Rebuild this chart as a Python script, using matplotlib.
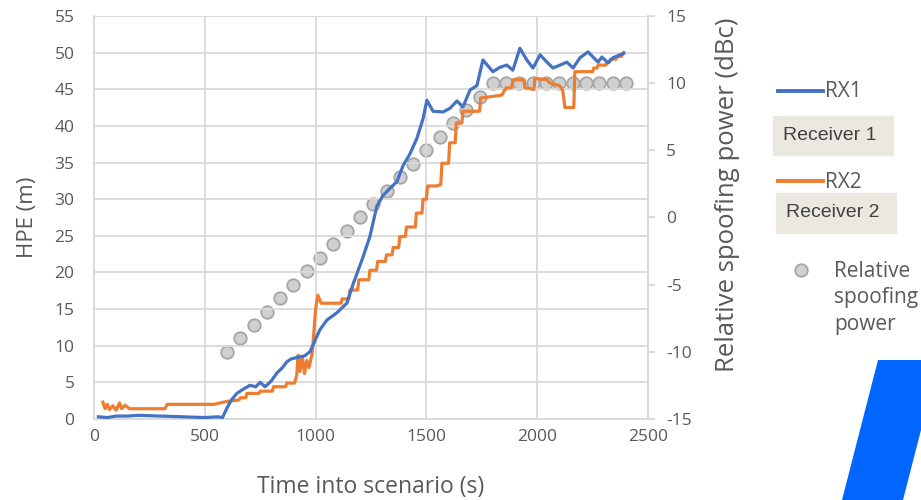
import matplotlib
matplotlib.use("Agg")
import matplotlib.pyplot as plt
from matplotlib.lines import Line2D
from matplotlib.patches import Polygon, Rectangle

plt.rcParams["font.family"] = ["Open Sans", "DejaVu Sans"]
plt.rcParams["axes.unicode_minus"] = False

# data
rx1_t = [20, 60, 100, 150, 200, 300, 400, 500, 560, 580, 600, 620, 645, 670, 704,
         730, 750, 772, 800, 826, 850, 870, 890, 916, 950, 975, 1006, 1020, 1051,
         1096, 1141, 1169, 1214, 1245, 1276, 1304, 1336, 1367, 1395, 1426, 1457,
         1485, 1502, 1530, 1575, 1606, 1638, 1665, 1697, 1728, 1755, 1800, 1832,
         1863, 1890, 1922, 1953, 1981, 2013, 2044, 2071, 2103, 2134, 2162, 2193,
         2229, 2252, 2275, 2292, 2320, 2342, 2374, 2390]
rx1_hpe = [0.3, 0.2, 0.4, 0.4, 0.5, 0.4, 0.3, 0.2, 0.3, 0.2, 1.5, 2.6, 3.5, 4.0, 4.6,
           4.4, 5.0, 4.4, 5.2, 6.3, 7.0, 7.8, 8.2, 8.4, 8.6, 9.2, 11.3, 12.2, 13.5,
           14.5, 15.8, 18.4, 22.1, 24.9, 29.0, 30.5, 31.5, 32.4, 34.6, 36.2, 38.3,
           41.0, 43.5, 42.0, 41.9, 42.4, 43.4, 42.6, 44.9, 45.5, 49.0, 47.4, 48.0,
           48.3, 47.6, 50.6, 49.0, 47.9, 49.7, 48.7, 47.9, 48.3, 48.7, 47.9, 49.3,
           50.1, 49.4, 48.7, 49.4, 48.6, 49.3, 49.7, 49.9]

rx2_t = [40, 50, 60, 70, 85, 100, 115, 125, 140, 160, 320, 330, 540, 600, 655, 660,
         685, 690, 745, 750, 805, 810, 865, 870, 905, 915, 921, 930, 940, 950, 960,
         970, 985, 1000, 1010, 1025, 1115, 1120, 1150, 1155, 1190, 1195, 1240, 1245,
         1275, 1280, 1315, 1320, 1345, 1350, 1375, 1380, 1405, 1410, 1450, 1455,
         1480, 1485, 1500, 1505, 1545, 1565, 1570, 1600, 1605, 1630, 1635, 1660,
         1665, 1740, 1745, 1840, 1860, 1885, 1890, 1940, 1945, 1985, 1990, 2045,
         2055, 2100, 2115, 2125, 2165, 2170, 2250, 2255, 2270, 2275, 2310, 2315,
         2325, 2330, 2355, 2360, 2380, 2390]
rx2_hpe = [2.3, 1.4, 2.0, 1.3, 1.8, 1.2, 2.2, 1.4, 1.9, 1.4, 1.4, 2.0, 2.0, 2.4, 2.6,
           2.9, 2.9, 3.5, 3.5, 3.8, 3.8, 4.4, 4.4, 4.9, 4.9, 6.0, 8.7, 6.5, 8.5, 6.2,
           8.0, 7.0, 9.0, 15.0, 16.9, 15.8, 15.8, 16.4, 16.4, 17.6, 17.6, 19.0, 19.0,
           20.3, 20.3, 21.5, 21.5, 22.4, 22.4, 23.4, 23.4, 24.9, 24.9, 26.2, 26.2,
           28.1, 28.1, 30.0, 30.0, 31.8, 31.8, 32.0, 34.9, 34.9, 37.7, 37.7, 40.4,
           40.4, 42.0, 42.0, 43.8, 44.2, 45.2, 45.2, 46.3, 46.3, 45.2, 45.0, 46.5,
           46.3, 45.9, 45.5, 44.9, 42.5, 42.5, 47.4, 47.4, 47.9, 47.9, 48.3, 48.3,
           48.7, 48.7, 49.1, 49.1, 49.4, 49.5, 50.0]

spoof_t = [600, 660, 720, 780, 840, 900, 960, 1020, 1080, 1140, 1200, 1260, 1320,
           1380, 1440, 1500, 1560, 1620, 1680, 1740, 1800, 1860, 1920, 1980, 2040,
           2100, 2160, 2220, 2280, 2340, 2400]
spoof_db = [-10, -9, -8, -7, -6, -5, -4, -3, -2, -1, 0, 1, 2, 3, 4, 5, 6, 7, 8, 9,
            10, 10, 10, 10, 10, 10, 10, 10, 10, 10, 10]

blue = "#4472c4"
orange = "#ed7d31"
txt = "#595959"
grid = "#d9d9d9"

W, H = 921, 500
fig = plt.figure(figsize=(9.21, 5.0), dpi=100)
ax = fig.add_axes([94 / W, 1 - 419 / H, (648 - 94) / W, (419 - 16) / H])

ax.plot(rx1_t, rx1_hpe, color=blue, lw=2.3, zorder=4)
ax.plot(rx2_t, rx2_hpe, color=orange, lw=2.3, zorder=3)
ax.set_xlim(0, 2500)
ax.set_ylim(0, 55)
ax.set_xticks(range(0, 2501, 500))
ax.set_yticks(range(0, 56, 5))
ax.grid(True, color=grid, lw=1.3)
ax.set_axisbelow(True)
ax.tick_params(axis="y", length=0, pad=14, labelsize=12.5, labelcolor=txt)
ax.tick_params(axis="x", length=0, pad=7, labelsize=12.5, labelcolor=txt)
ax.spines["top"].set_visible(False)
for side in ["left", "bottom", "right"]:
    ax.spines[side].set_color(grid)
    ax.spines[side].set_linewidth(1.3)
ax.set_xlabel("Time into scenario (s)", fontsize=16.5, color=txt, va="center")
ax.xaxis.set_label_coords(0.5, (419 - 487) / 403)
ax.set_ylabel("HPE (m)", fontsize=16, color=txt, va="center")
ax.yaxis.set_label_coords((27 - 94) / 554, (419 - 217) / 403)

ax2 = ax.twinx()
ax2.plot(spoof_t, spoof_db, ls="none", marker="o", ms=9, mfc="#d0d0d0",
         mec="#a6a6a6", mew=1.3, zorder=2)
ax2.set_ylim(-15, 15)
ax2.set_yticks(range(-15, 16, 5))
ax2.tick_params(axis="y", length=5, width=1.3, color=grid, pad=8,
                labelsize=12.5, labelcolor=txt)
for side in ["top", "left", "bottom"]:
    ax2.spines[side].set_visible(False)
ax2.spines["right"].set_color(grid)
ax2.spines["right"].set_linewidth(1.3)
ax2.set_ylabel("Relative spoofing power (dBc)", fontsize=18.5, color=txt, va="center")
ax2.yaxis.set_label_coords((727 - 94) / 554, (419 - 195) / 403)
ax.set_zorder(ax2.get_zorder() + 1)
ax.patch.set_visible(False)


def fx(px):
    return px / W


def fy(py):
    return 1 - py / H


# hand-made legend
fig.add_artist(Line2D([fx(778), fx(823)], [fy(91), fy(91)], color=blue, lw=2.8))
fig.text(fx(825), fy(92), "RX1", fontsize=15, color=txt, va="center")
fig.add_artist(Rectangle((fx(773), fy(155)), fx(120), 39 / H, color="#ebe9df"))
fig.text(fx(783), fy(135), "Receiver 1", fontsize=14, color="#404040",
         va="center", family=["Liberation Sans"])
fig.add_artist(Line2D([fx(778), fx(823)], [fy(181), fy(181)], color=orange, lw=2.8))
fig.text(fx(825), fy(182), "RX2", fontsize=15, color=txt, va="center")
fig.add_artist(Rectangle((fx(776), fy(233)), fx(120), 40 / H, color="#ebe9df"))
fig.text(fx(786), fy(213), "Receiver 2", fontsize=14, color="#404040",
         va="center", family=["Liberation Sans"])
fig.add_artist(Line2D([fx(801)], [fy(270)], ls="none", marker="o", ms=9,
                      mfc="#d0d0d0", mec="#a6a6a6", mew=1.3))
fig.text(fx(834), fy(298), "Relative\nspoofing\npower", fontsize=15, color=txt,
         va="center", linespacing=1.35)

# blue decoration in corner
fig.add_artist(Polygon([(fx(878), fy(360)), (fx(921), fy(360)), (fx(921), fy(430)),
                        (fx(903), fy(500)), (fx(842), fy(500))],
                       closed=True, color="#0066ff", lw=0))

fig.savefig("out.png", dpi=100)
